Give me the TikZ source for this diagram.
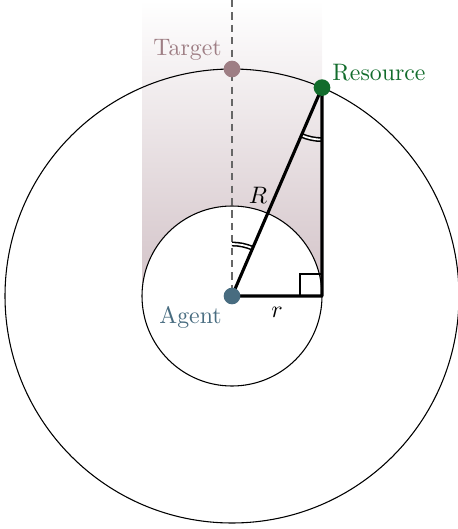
\documentclass[tikz,border=0pt]{standalone}
\usetikzlibrary{calc}
\definecolor{tgt}{RGB}{158,126,132}
\definecolor{res}{RGB}{18,108,44}
\definecolor{agt}{RGB}{72,108,128}
\definecolor{shadebot}{RGB}{210,194,199}
\tikzset{
  thinline/.style={line width=0.45pt},
  leg/.style={line width=1.3pt},
  dot/.style={circle, inner sep=0pt, minimum size=7pt},
  angmark/.style={draw, double, line width=0.65pt, double distance=0.75pt},
}
\begin{document}
\begin{tikzpicture}[x=0.42pt,y=-0.42pt]
\useasboundingbox (0,0) rectangle (458,529);
% shaded region
\shade[top color=white, bottom color=shadebot] (142,0) rectangle (322,296);
% coordinates
\coordinate (A) at (232,296);
\coordinate (Rs) at (322,87.6);
\coordinate (T) at (232,69);
\coordinate (F) at (322,296);
\coordinate (top) at (232,0);
% circles
\draw[thinline] (A) circle[radius=227];
\draw[thinline, fill=white] (A) circle[radius=90];
% dashed axis
\draw[line width=0.6pt, dash pattern=on 3pt off 2.2pt, black!60] (top) -- (A);
% angle marks
\draw[angmark] ($(A)+(-66.6:52)$) arc[start angle=-66.6, end angle=-90, radius=52];
\draw[angmark] ($(Rs)+(113.4:52)$) arc[start angle=113.4, end angle=90, radius=52];
% right angle
\draw[line width=0.75pt] (300,296) -- (300,274) -- (322,274);
% triangle
\draw[leg, line join=round] (A) -- (Rs) -- (F) -- cycle;
% labels
\node (Rlab) at (258,195) {$R$};
\node (rlab) at (277,312) {$r$};
% dots
\node[dot, fill=tgt] (target) at (T) {};
\node[dot, fill=res] (resource) at (Rs) {};
\node[dot, fill=agt] (agent) at (A) {};
\node[text=tgt, anchor=east] (tl) at (230,50) {Target};
\node[text=res, anchor=west] (rl) at (324,73) {Resource};
\node[text=agt, anchor=east] (al) at (230,317) {Agent};
\end{tikzpicture}
\end{document}
